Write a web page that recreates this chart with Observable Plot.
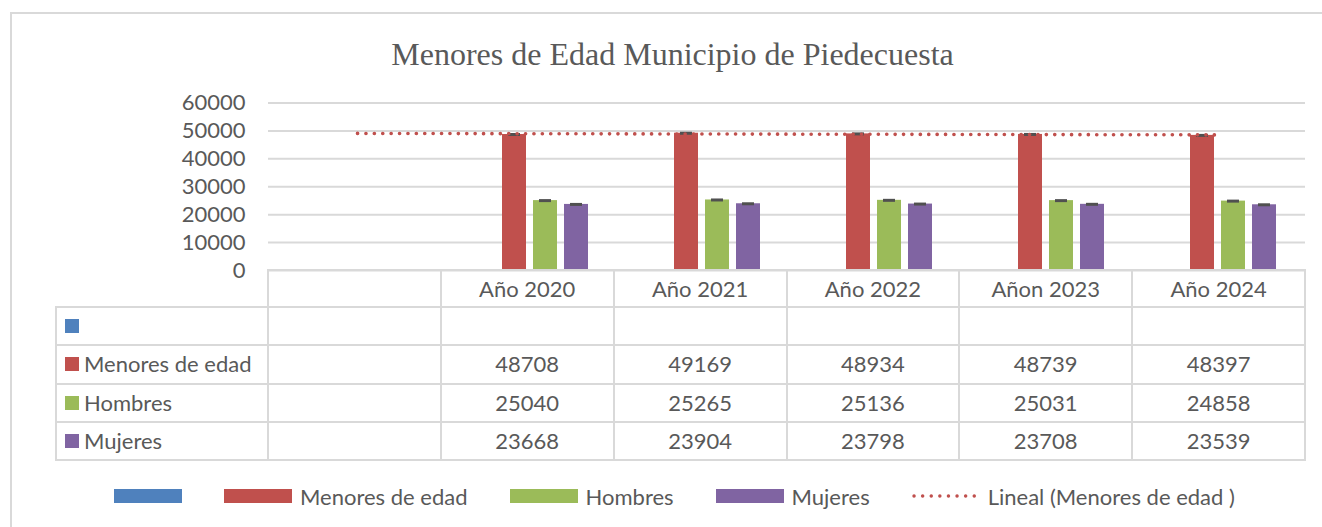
<!DOCTYPE html>
<html>
<head>
<meta charset="utf-8">
<script src="https://cdn.jsdelivr.net/npm/d3@7"></script>
<script src="https://cdn.jsdelivr.net/npm/@observablehq/plot@0.6"></script>
<style>
  html, body { margin: 0; padding: 0; background: #fff; }
  body { width: 1322px; height: 527px; overflow: hidden; position: relative; font-family: Lato, sans-serif; color: #595959; }
  #frame { position: absolute; left: 10px; top: 12px; width: 1340px; height: 540px; border: 2px solid #D9D9D9; box-sizing: border-box; }
  #title { position: absolute; left: 0; width: 1345px; top: 38px; text-align: center; font-family: "Liberation Serif", serif; font-size: 32px; line-height: 32px; color: #595959; white-space: nowrap; }
  .layer { position: absolute; left: 0; top: 0; }
  .hl, .vl { position: absolute; background: #D9D9D9; }
  .cell { position: absolute; font-size: 22px; color: #595959; white-space: nowrap; }
  .sw { position: absolute; width: 14px; height: 14px; }
  #legend { position: absolute; left: 114px; top: 482px; height: 28px; display: flex; align-items: center; font-size: 22px; color: #595959; white-space: nowrap; }
  .lsw { width: 68px; height: 14px; }
  .ltx { margin-left: 8px; }
  .lit { display: flex; align-items: center; margin-right: 42px; }
</style>
</head>
<body>
<div id="frame"></div>
<div id="title"></div>
<div id="chart"></div>
<div id="table"></div>
<div id="legend"></div>
<script>
// ---------- data ----------
const titleText = "Menores de Edad Municipio de Piedecuesta";
const categories = ["", "Año 2020", "Año 2021", "Año 2022", "Añon 2023", "Año 2024"];
const seriesNames = ["", "Menores de edad", "Hombres", "Mujeres"];
const seriesColors = ["#4F81BD", "#C0504D", "#9BBB59", "#8064A2"];
const blueValues = [null, null, null, null, null, null];
const menoresValues = [null, 48708, 49169, 48934, 48739, 48397];
const hombresValues = [null, 25040, 25265, 25136, 25031, 24858];
const mujeresValues = [null, 23668, 23904, 23798, 23708, 23539];
const yTicks = [0, 10000, 20000, 30000, 40000, 50000, 60000];
const trendLabel = "Lineal (Menores de edad )";

const seriesValues = [blueValues, menoresValues, hombresValues, mujeresValues];

document.getElementById("title").textContent = titleText;

// ---------- geometry ----------
const W = 1322, H = 280;
const dims = { width: W, height: H, marginTop: 102.5, marginBottom: 10, marginLeft: 268, marginRight: 17 };
const font = { fontFamily: "Lato, sans-serif", fontSize: "22px", color: "#595959", background: "transparent", overflow: "visible" };
const yDomain = [0, 60000];

// tidy bar data
const barData = [];
seriesNames.forEach((s, si) => {
  categories.forEach((c, ci) => {
    const v = seriesValues[si][ci];
    if (v != null) barData.push({ cat: c, series: s, value: v });
  });
});

// Layer 1: grid + y axis
const gridPlot = Plot.plot({
  ...dims, style: font,
  y: { domain: yDomain, label: null },
  marks: [
    Plot.gridY(yTicks, { stroke: "#D9D9D9", strokeOpacity: 1, strokeWidth: 2 }),
    Plot.axisY(yTicks, { tickSize: 0, tickPadding: 23, tickFormat: d3.format("d"), label: null, fill: "#595959" })
  ]
});

// Layer 2: bars (grouped with fx facets)
const barPlot = Plot.plot({
  ...dims, style: font,
  fx: { domain: categories, padding: 0, axis: null, label: null },
  x: { domain: seriesNames, paddingInner: 0.24, paddingOuter: 0.86, axis: null },
  y: { domain: yDomain, axis: null },
  color: { domain: seriesNames, range: seriesColors },
  marks: [
    Plot.barY(barData, { fx: "cat", x: "series", y: "value", fill: "series" }),
    Plot.tickY(barData, { fx: "cat", x: "series", y: "value", stroke: "#505050", strokeWidth: 3, insetLeft: 6, insetRight: 6 })
  ]
});

// Layer 3: linear trendline of "Menores de edad"
const pts = menoresValues.map((v, i) => ({ i, v })).filter(d => d.v != null);
const mx = d3.mean(pts, d => d.i), my = d3.mean(pts, d => d.v);
const slope = d3.sum(pts, d => (d.i - mx) * (d.v - my)) / d3.sum(pts, d => (d.i - mx) ** 2);
const intercept = my - slope * mx;
const trend = [0, categories.length - 1].map(i => ({ cat: categories[i], value: intercept + slope * i }));
const trendPlot = Plot.plot({
  ...dims, style: font,
  x: { type: "point", domain: categories, padding: 0.5, axis: null },
  y: { domain: yDomain, axis: null },
  marks: [
    Plot.line(trend, { x: "cat", y: "value", stroke: "#C0504D", strokeWidth: 3.6, strokeDasharray: "0.1 8.3", strokeLinecap: "round" })
  ]
});

const chart = document.getElementById("chart");
[gridPlot, barPlot, trendPlot].forEach(p => { p.classList.add("layer"); p.style.position = "absolute"; p.style.left = "0"; p.style.top = "0"; chart.appendChild(p); });

// ---------- data table ----------
const table = document.getElementById("table");
const plotLeft = dims.marginLeft, plotRight = W - dims.marginRight;
const colW = (plotRight - plotLeft) / categories.length;
const colX = categories.map((c, i) => plotLeft + i * colW).concat([plotRight]);
const labelLeft = 56;
const headerTop = 270, headerBottom = 307, tableBottom = 460;
const rowH = (tableBottom - headerBottom) / seriesNames.length;
const rowY = seriesNames.map((s, i) => headerBottom + i * rowH).concat([tableBottom]);

function hline(x1, x2, y) { const d = document.createElement("div"); d.className = "hl"; Object.assign(d.style, { left: x1 - 1 + "px", width: (x2 - x1 + 2) + "px", top: (y - 1) + "px", height: "2px" }); table.appendChild(d); }
function vline(x, y1, y2) { const d = document.createElement("div"); d.className = "vl"; Object.assign(d.style, { left: (x - 1) + "px", width: "2px", top: (y1 - 1) + "px", height: (y2 - y1 + 2) + "px" }); table.appendChild(d); }
function text(str, x, y, w, h, align) { const d = document.createElement("div"); d.className = "cell"; d.textContent = str; Object.assign(d.style, { left: x + "px", top: y + "px", width: w + "px", height: h + "px", lineHeight: h + "px", textAlign: align }); table.appendChild(d); }

hline(plotLeft, plotRight, headerTop);
rowY.forEach(y => hline(labelLeft, plotRight, y));
colX.forEach(x => vline(x, headerTop, tableBottom));
vline(labelLeft, headerBottom, tableBottom);

categories.forEach((c, i) => text(c, colX[i], headerTop, colW, headerBottom - headerTop, "center"));
seriesNames.forEach((s, si) => {
  const y = rowY[si];
  const sw = document.createElement("div"); sw.className = "sw";
  Object.assign(sw.style, { left: "65px", top: (y + rowH / 2 - 7) + "px", background: seriesColors[si] });
  table.appendChild(sw);
  text(s, 84, y, 180, rowH, "left");
  categories.forEach((c, ci) => {
    const v = seriesValues[si][ci];
    if (v != null) text(String(v), colX[ci], y, colW, rowH, "center");
  });
});

// ---------- legend ----------
const legend = document.getElementById("legend");
seriesNames.forEach((s, si) => {
  const it = document.createElement("div"); it.className = "lit";
  const sw = document.createElement("div"); sw.className = "lsw"; sw.style.background = seriesColors[si];
  it.appendChild(sw);
  if (s) { const t = document.createElement("span"); t.className = "ltx"; t.textContent = s; it.appendChild(t); }
  legend.appendChild(it);
});
{
  const it = document.createElement("div"); it.className = "lit";
  const ns = "http://www.w3.org/2000/svg";
  const svg = document.createElementNS(ns, "svg"); svg.setAttribute("width", "70"); svg.setAttribute("height", "14");
  const ln = document.createElementNS(ns, "line");
  ln.setAttribute("x1", "2"); ln.setAttribute("x2", "70"); ln.setAttribute("y1", "7"); ln.setAttribute("y2", "7");
  ln.setAttribute("stroke", "#C0504D"); ln.setAttribute("stroke-width", "3.4"); ln.setAttribute("stroke-dasharray", "0.1 8.5"); ln.setAttribute("stroke-linecap", "round");
  svg.appendChild(ln); it.appendChild(svg);
  const t = document.createElement("span"); t.className = "ltx"; t.style.marginLeft = "6px"; t.textContent = trendLabel; it.appendChild(t);
  legend.appendChild(it);
}
</script>
</body>
</html>
